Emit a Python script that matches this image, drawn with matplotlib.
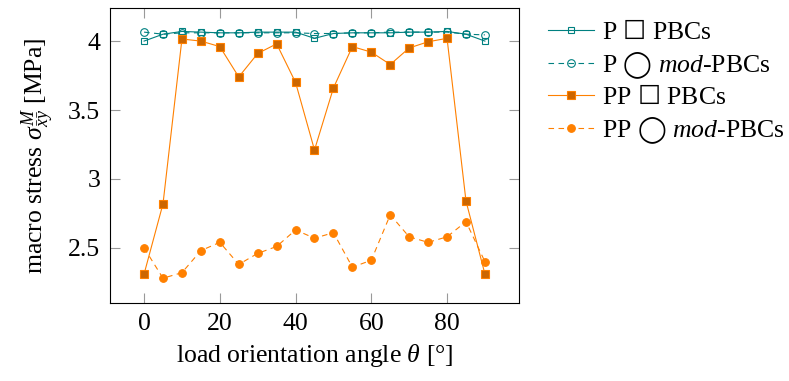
import numpy as np
import matplotlib
matplotlib.use("Agg")
import matplotlib.pyplot as plt

# ---------------- data ----------------
theta = [0, 5, 10, 15, 20, 25, 30, 35, 40, 45, 50, 55, 60, 65, 70, 75, 80, 85, 90]

p_pbc = [4.00, 4.05, 4.07, 4.065, 4.06, 4.06, 4.065, 4.065, 4.065, 4.02,
         4.055, 4.06, 4.06, 4.06, 4.065, 4.065, 4.07, 4.05, 4.00]
p_mod = [4.065, 4.05, 4.06, 4.06, 4.06, 4.06, 4.06, 4.06, 4.06, 4.055,
         4.055, 4.06, 4.06, 4.065, 4.065, 4.065, 4.065, 4.05, 4.045]
pp_pbc = [2.31, 2.82, 4.015, 4.00, 3.96, 3.74, 3.91, 3.98, 3.70, 3.21,
          3.66, 3.96, 3.92, 3.83, 3.95, 3.995, 4.02, 2.84, 2.31]
pp_mod = [2.50, 2.28, 2.32, 2.48, 2.54, 2.38, 2.46, 2.51, 2.63, 2.57,
          2.61, 2.36, 2.41, 2.74, 2.58, 2.54, 2.58, 2.69, 2.40]

labels = ["P $\\mathsf{\u2610}$ PBCs",
          "P $\\mathsf{\u25ef}$ $\\mathit{mod}$-PBCs",
          "PP $\\mathsf{\u2610}$ PBCs",
          "PP $\\mathsf{\u25ef}$ $\\mathit{mod}$-PBCs"]

TEAL = "#008080"
ORANGE = "#ff8000"
DARK_ORANGE = "#cc6600"
FS = 18.5

plt.rcParams["font.family"] = ["Liberation Serif", "DejaVu Sans"]
plt.rcParams["mathtext.fontset"] = "custom"
plt.rcParams["mathtext.rm"] = "Liberation Serif"
plt.rcParams["mathtext.it"] = "Liberation Serif:italic"
plt.rcParams["mathtext.sf"] = "DejaVu Sans"
plt.rcParams["font.size"] = FS

fig = plt.figure(figsize=(7.89, 3.81), dpi=100)
ax = fig.add_axes([0.1394, 0.2047, 0.5184, 0.7743])

lw = 0.8
ax.plot(theta, p_pbc, color=TEAL, lw=lw, marker="s", ms=5,
        mfc="none", mec=TEAL, mew=0.8, label=labels[0])
ax.plot(theta, p_mod, color=TEAL, lw=lw, ls=(0, (5, 4)), marker="o", ms=5.5,
        mfc="none", mec=TEAL, mew=0.8, label=labels[1])
ax.plot(theta, pp_pbc, color=ORANGE, lw=lw, marker="s", ms=5.5,
        mfc=DARK_ORANGE, mec=ORANGE, mew=0.8, label=labels[2])
ax.plot(theta, pp_mod, color=ORANGE, lw=lw, ls=(0, (5, 4)), marker="o", ms=5.5,
        mfc=ORANGE, mec=ORANGE, mew=0.8, label=labels[3])

ax.set_xlim(-9, 99)
ax.set_ylim(2.10, 4.24)
ax.set_xticks([0, 20, 40, 60, 80])
ax.set_yticks([2.5, 3, 3.5, 4])
ax.set_yticklabels(["2.5", "3", "3.5", "4"])
ax.tick_params(direction="in", length=7, width=0.8, color="#999999",
               top=True, right=True, labelsize=FS, pad=7)
for sp in ax.spines.values():
    sp.set_linewidth(0.8)

ax.set_xlabel("load orientation angle $\\theta$ [\u00b0]", fontsize=FS, labelpad=5)
ax.set_ylabel("macro stress $\\sigma^{M}_{\\bar{x}\\bar{y}}$ [MPa]", fontsize=FS, labelpad=8)

ax.legend(loc="upper left", bbox_to_anchor=(1.045, 0.99), frameon=False,
          fontsize=FS, handlelength=1.8, handletextpad=0.3,
          labelspacing=0.22, borderaxespad=0)

fig.savefig("out.png", dpi=100)
